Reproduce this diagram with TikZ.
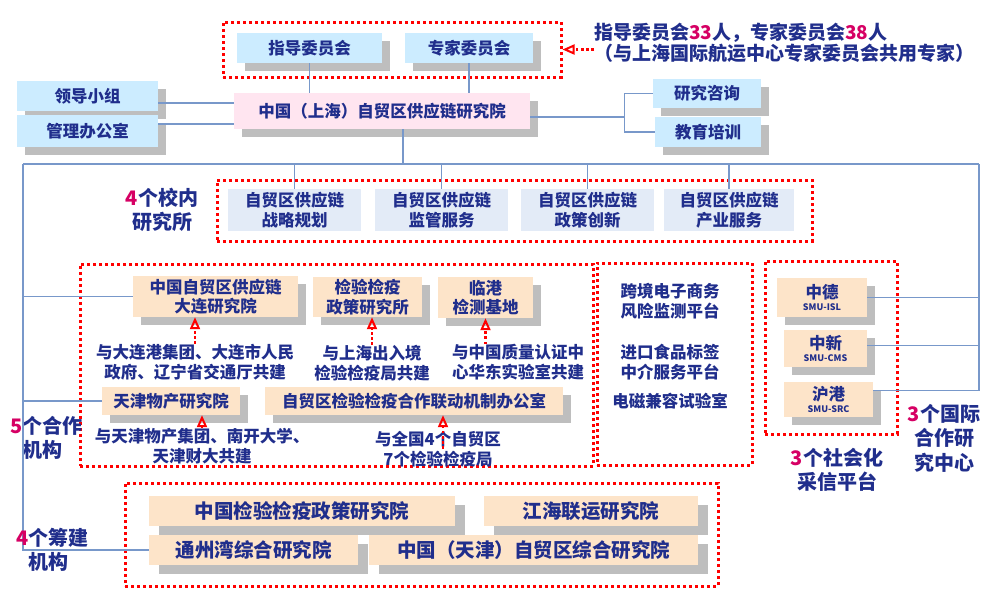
\documentclass[tikz,border=0pt]{standalone}
\usepackage{fontspec}
\setmainfont{Noto Sans CJK SC}
\usetikzlibrary{arrows.meta,shadows}
\definecolor{navy}{RGB}{32,46,140}
\definecolor{numred}{RGB}{214,0,100}
\definecolor{skyfill}{RGB}{204,236,255}
\definecolor{pinkfill}{RGB}{255,229,240}
\definecolor{peachfill}{RGB}{253,228,201}
\definecolor{instfill}{RGB}{227,235,247}
\definecolor{shade}{RGB}{190,190,190}
\definecolor{linkblue}{RGB}{120,152,202}

\begin{document}
\begin{tikzpicture}[x=1pt,y=-1pt,
  sz/.style 2 args={minimum width=#1pt,minimum height=#2pt,inner sep=0pt},
  txt/.style={text=navy,align=center,inner sep=0pt,font=\bfseries\fontsize{16.5}{19.5}\selectfont},
  shadowed/.style={drop shadow={shadow xshift=8pt,shadow yshift=-8pt,fill=shade,opacity=1}},
  skybox/.style={txt,fill=skyfill,shadowed},
  pinkbox/.style={txt,fill=pinkfill,shadowed},
  peachbox/.style={txt,fill=peachfill,shadowed},
  intlbox/.style={peachbox,font=\bfseries\fontsize{16.5}{12}\selectfont},
  bigbox/.style={txt,fill=peachfill,font=\bfseries\fontsize{19.5}{22}\selectfont,
    drop shadow={shadow xshift=10pt,shadow yshift=-9pt,fill=shade,opacity=1}},
  instbox/.style={txt,fill=instfill},
  label/.style={txt,font=\bfseries\fontsize{20}{24.5}\selectfont},
  note/.style={txt,font=\bfseries\fontsize{19}{21}\selectfont},
  redframe/.style={draw=red,line width=3pt,dash pattern=on 3pt off 3pt},
  link/.style={draw=linkblue,line width=1.3pt},
  redarr/.style={red,line width=2.2pt,dash pattern=on 2.6pt off 2.6pt,
    -{Triangle[open,length=12pt,width=10pt,line width=2pt]}}]
\fill[white] (0,0) rectangle (998,600);
\useasboundingbox (0,0) rectangle (998,600);

% top committees
\node[redframe,sz={338}{55}] (topframe) at (392,49.5) {};
\node[skybox,sz={145}{30}] (zhidao) at (309.5,48) {指导委员会};
\node[skybox,sz={128}{30}] (zhuanjia) at (469,48) {专家委员会};
\node[note,anchor=west,align=left] (note) at (594,43)
  {指导委员会{\color{numred}33}人，专家委员会{\color{numred}38}人\\（与上海国际航运中心专家委员会共用专家）};
\draw[redarr] (note.west |- topframe.east) -- (topframe.east);

% institute and side boxes
\node[pinkbox,sz={296}{36}] (main) at (382,111) {中国（上海）自贸区供应链研究院};
\node[skybox,sz={141}{30}] (lingdao) at (87.5,96) {领导小组};
\node[skybox,sz={141}{32}] (guanli) at (87.5,131) {管理办公室};
\node[skybox,sz={108}{29}] (zixun) at (707,93.5) {研究咨询};
\node[skybox,sz={106}{30}] (peixun) at (708,132) {教育培训};

\draw[link] (zhidao.south) -- (zhidao.south |- main.north);
\draw[link] (zhuanjia.south) -- (zhuanjia.south |- main.north);
\coordinate (ldtap) at ([yshift=-7pt]lingdao.east);
\coordinate (gltap) at ([yshift=7pt]guanli.east);
\draw[link] (ldtap) -- (ldtap -| main.west);
\draw[link] (gltap) -- (gltap -| main.west);
\coordinate (fork) at ([shift={(94,6)}]main.east);
\draw[link] (main.east |- fork) -- (fork);
\draw[link] (zixun.west) -| (fork) |- (peixun.west);

% bus line
\coordinate (busL) at (23,164);
\coordinate (busR) at (979,164);
\coordinate (drop) at ([xshift=21pt]main.south);
\draw[link] (drop) -- (drop |- busL);
\draw[link] (busL) -- (busR);

% 4 research institutes
\node[redframe,sz={595}{61}] (instframe) at (514.5,210.5) {};
\node[instbox,sz={133}{42}] (inst1) at (294.5,210) {自贸区供应链\\战略规划};
\node[instbox,sz={133}{42}] (inst2) at (441.5,210) {自贸区供应链\\监管服务};
\node[instbox,sz={133}{42}] (inst3) at (587.5,210) {自贸区供应链\\政策创新};
\node[instbox,sz={130}{42}] (inst4) at (729,210) {自贸区供应链\\产业服务};
\draw[link] (inst1.north) -- (inst1.north |- busL);
\draw[link] (inst2.north) -- (inst2.north |- busL);
\draw[link] (inst3.north) -- (inst3.north |- busL);
\draw[link] (inst4.north) -- (inst4.north |- busL);
\node[label] (lblinst) at (162,210) {{\color{numred}4}个校内\\研究所};

% 5 cooperation bodies
\node[redframe,sz={513}{202}] (coopframe) at (336.5,365) {};
\node[peachbox,sz={165}{41}] (dalian) at (215.5,296.5) {中国自贸区供应链\\大连研究院};
\node[peachbox,sz={109}{40}] (jianyan) at (367.5,297) {检验检疫\\政策研究所};
\node[peachbox,sz={95}{41}] (lingang) at (485.5,297.5) {临港\\检测基地};
\node[txt] (dlnote) at (195,362) {与大连港集团、大连市人民\\政府、辽宁省交通厅共建};
\node[txt] (shnote) at (372,363) {与上海出入境\\检验检疫局共建};
\node[txt] (lgnote) at (518,362) {与中国质量认证中\\心华东实验室共建};
\node[peachbox,sz={138}{28}] (tjwc) at (171,401) {天津物产研究院};
\node[peachbox,sz={298}{28}] (lianban) at (414,401) {自贸区检验检疫合作联动机制办公室};
\node[txt] (tjnote) at (202,446) {与天津物产集团、南开大学、\\天津财大共建};
\node[txt] (qgnote) at (438,449) {与全国4个自贸区\\7个检验检疫局};
\draw[redarr] (dlnote.north) -- (dlnote.north |- dalian.south);
\draw[redarr] (shnote.north) -- (shnote.north |- jianyan.south);
\draw[redarr] (lingang.south |- lgnote.north) -- (lingang.south);
\draw[redarr] (tjnote.north) -- (tjnote.north |- tjwc.south);
\coordinate (qgfoot) at ([xshift=5pt]qgnote.center);
\draw[redarr] (qgfoot) -- (qgfoot |- lianban.south);
\node[label,anchor=west,align=left] (lblcoop) at (22,438) {\llap{\color{numred}5}个合作\\机构};

% platforms
\node[redframe,sz={155}{202}] (platframe) at (674.5,364) {};
\node[txt] (kuajing) at (670,301) {跨境电子商务\\风险监测平台};
\node[txt] (jinkou) at (670,362) {进口食品标签\\中介服务平台};
\node[txt] (dianci) at (670,401) {电磁兼容试验室};
\node[label] (lblsoc) at (837,470) {{\color{numred}3}个社会化\\采信平台};

% international centres
\node[redframe,sz={132}{173}] (intlframe) at (831,347.5) {};
\node[intlbox,sz={90}{39}] (zhongde) at (822,297.5) {中德\\{\fontsize{9}{12}\selectfont SMU-ISL}};
\node[intlbox,sz={83}{37}] (zhongxin) at (825.5,348.5) {中新\\{\fontsize{9}{12}\selectfont SMU-CMS}};
\node[intlbox,sz={89}{35}] (hugang) at (828.5,399.5) {沪港\\{\fontsize{9}{12}\selectfont SMU-SRC}};
\coordinate (zxtap) at ([yshift=3pt]zhongxin.east);
\coordinate (hgtap) at ([yshift=9pt]hugang.east);
\draw[link] (zhongde.east) -- (zhongde.east -| busR);
\draw[link] (zxtap) -- (zxtap -| busR);
\draw[link] (busR) |- (hgtap);
\node[label] (lblintl) at (944,438) {{\color{numred}3}个国际\\合作研\\究中心};

% 4 bodies in preparation
\node[redframe,sz={593}{103}] (buildframe) at (421.5,534.5) {};
\node[bigbox,sz={306}{30}] (jyzc) at (302,511) {中国检验检疫政策研究院};
\node[bigbox,sz={214}{30}] (jianghai) at (591,511) {江海联运研究院};
\node[bigbox,sz={209}{30}] (tongzhou) at (253.5,550) {通州湾综合研究院};
\node[bigbox,sz={329}{30}] (tjzh) at (533.5,550) {中国（天津）自贸区综合研究院};
\draw[link] (busL) |- (tongzhou.west);
\draw[link] (dalian.west -| busL) -- (dalian.west);
\draw[link] (tjwc.west -| busL) -- (tjwc.west);
\node[label,anchor=west,align=left] (lblbuild) at (28,550) {\llap{\color{numred}4}个筹建\\机构};
\end{tikzpicture}
\end{document}
